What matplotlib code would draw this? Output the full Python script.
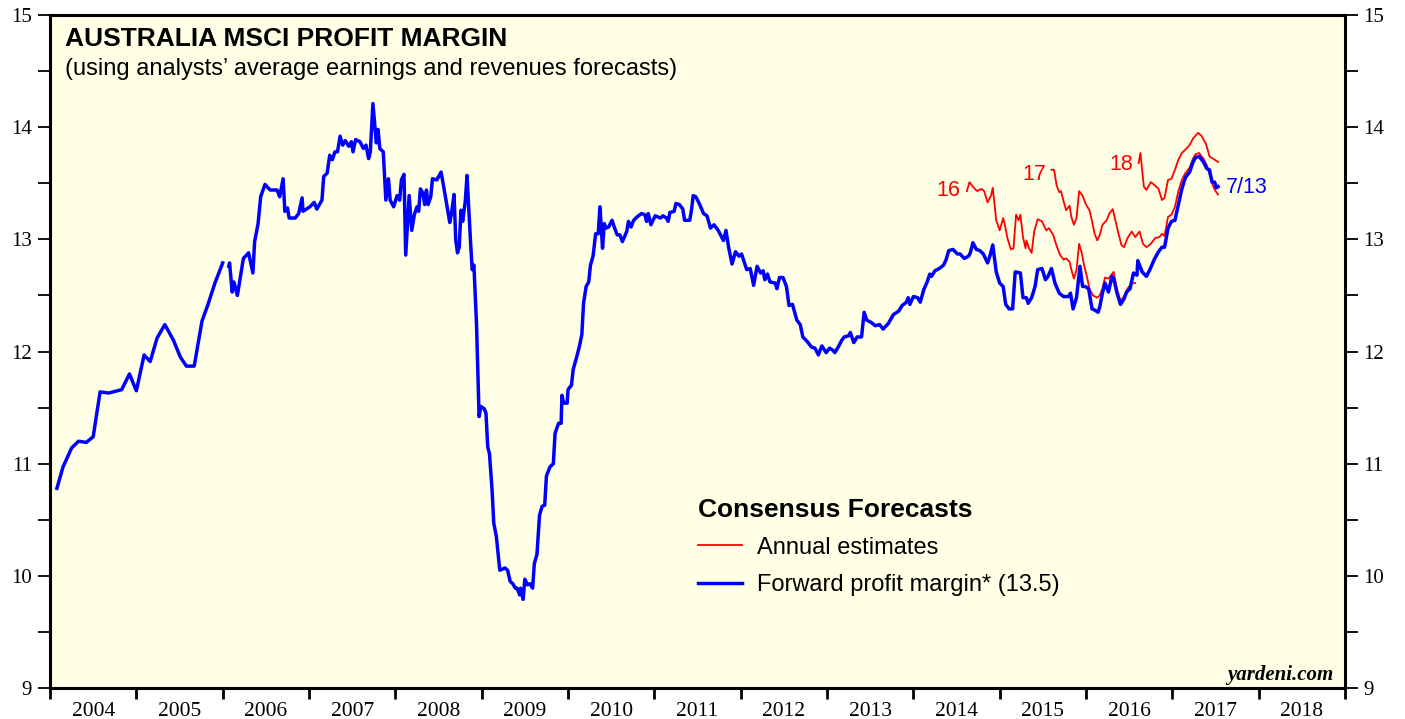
import numpy as np
import matplotlib
matplotlib.use("Agg")
import matplotlib.pyplot as plt

# Forward profit margin (weekly-ish), decimal years
fwd_dates = [
    2004.08, 2004.15, 2004.25, 2004.33, 2004.42, 2004.50, 2004.58, 2004.68, 2004.83, 2004.92,
    2005.00, 2005.09, 2005.16, 2005.24, 2005.33, 2005.43, 2005.51, 2005.58, 2005.67, 2005.76,
    2005.83, 2005.91, 2006.00, 2006.03, 2006.07, 2006.08, 2006.11, 2006.13, 2006.17, 2006.24,
    2006.30, 2006.35, 2006.37, 2006.41, 2006.44, 2006.49, 2006.55, 2006.63, 2006.66, 2006.70,
    2006.72, 2006.75, 2006.77, 2006.84, 2006.88, 2006.92, 2006.93, 2007.01, 2007.06, 2007.09,
    2007.15, 2007.17, 2007.21, 2007.24, 2007.27, 2007.30, 2007.33, 2007.36, 2007.39, 2007.42,
    2007.46, 2007.49, 2007.51, 2007.54, 2007.59, 2007.63, 2007.66, 2007.69, 2007.71, 2007.74,
    2007.78, 2007.80, 2007.82, 2007.86, 2007.89, 2007.92, 2007.94, 2007.98, 2008.02, 2008.05,
    2008.07, 2008.10, 2008.12, 2008.16, 2008.19, 2008.22, 2008.25, 2008.27, 2008.29, 2008.32,
    2008.34, 2008.36, 2008.38, 2008.41, 2008.43, 2008.48, 2008.53, 2008.58, 2008.63, 2008.65,
    2008.68, 2008.70, 2008.72, 2008.74, 2008.76, 2008.78, 2008.81, 2008.83, 2008.87, 2008.89,
    2008.91, 2008.94, 2008.97, 2008.99, 2009.03, 2009.05, 2009.07, 2009.09, 2009.12, 2009.14,
    2009.17, 2009.21, 2009.27, 2009.30, 2009.33, 2009.36, 2009.39, 2009.41, 2009.44, 2009.45,
    2009.48, 2009.50, 2009.53, 2009.56, 2009.59, 2009.61, 2009.64, 2009.67, 2009.70, 2009.73,
    2009.75, 2009.79, 2009.83, 2009.85, 2009.89, 2009.92, 2009.93, 2009.95, 2009.99, 2010.00,
    2010.04, 2010.06, 2010.10, 2010.13, 2010.16, 2010.18, 2010.21, 2010.24, 2010.26, 2010.29,
    2010.32, 2010.35, 2010.37, 2010.40, 2010.42, 2010.44, 2010.47, 2010.51, 2010.54, 2010.57,
    2010.60, 2010.63, 2010.68, 2010.70, 2010.73, 2010.76, 2010.80, 2010.85, 2010.89, 2010.91,
    2010.93, 2010.96, 2011.01, 2011.07, 2011.10, 2011.14, 2011.16, 2011.18, 2011.23, 2011.25,
    2011.29, 2011.33, 2011.35, 2011.41, 2011.43, 2011.45, 2011.48, 2011.52, 2011.57, 2011.61,
    2011.65, 2011.69, 2011.74, 2011.80, 2011.83, 2011.86, 2011.90, 2011.94, 2011.98, 2012.01,
    2012.07, 2012.11, 2012.15, 2012.19, 2012.23, 2012.26, 2012.28, 2012.31, 2012.34, 2012.40,
    2012.42, 2012.45, 2012.49, 2012.53, 2012.56, 2012.60, 2012.65, 2012.69, 2012.72, 2012.77,
    2012.82, 2012.86, 2012.90, 2012.94, 2012.99, 2013.03, 2013.07, 2013.09, 2013.13, 2013.17,
    2013.20, 2013.25, 2013.27, 2013.31, 2013.35, 2013.40, 2013.43, 2013.46, 2013.51, 2013.56,
    2013.61, 2013.65, 2013.71, 2013.77, 2013.83, 2013.87, 2013.92, 2013.94, 2013.96, 2014.00,
    2014.05, 2014.08, 2014.12, 2014.16, 2014.19, 2014.21, 2014.25, 2014.30, 2014.35, 2014.38,
    2014.41, 2014.46, 2014.51, 2014.54, 2014.59, 2014.64, 2014.66, 2014.69, 2014.73, 2014.77,
    2014.81, 2014.86, 2014.89, 2014.92, 2014.96, 2015.00, 2015.04, 2015.07, 2015.11, 2015.15,
    2015.18, 2015.24, 2015.27, 2015.31, 2015.33, 2015.37, 2015.41, 2015.44, 2015.49, 2015.53,
    2015.56, 2015.60, 2015.64, 2015.69, 2015.74, 2015.80, 2015.82, 2015.85, 2015.89, 2015.93,
    2015.96, 2015.99, 2016.03, 2016.07, 2016.10, 2016.14, 2016.16, 2016.19, 2016.22, 2016.26,
    2016.30, 2016.32, 2016.36, 2016.40, 2016.44, 2016.47, 2016.51, 2016.55, 2016.59, 2016.60,
    2016.65, 2016.70, 2016.74, 2016.79, 2016.84, 2016.88, 2016.91, 2016.95, 2016.99, 2017.03,
    2017.07, 2017.11, 2017.15, 2017.20, 2017.24, 2017.27, 2017.31, 2017.36, 2017.40, 2017.43,
    2017.46, 2017.49, 2017.51, 2017.53,
]
fwd_margin = [
    10.78, 10.97, 11.14, 11.20, 11.19, 11.24, 11.64, 11.63, 11.66, 11.80,
    11.65, 11.97, 11.91, 12.12, 12.24, 12.10, 11.95, 11.87, 11.87, 12.27,
    12.42, 12.61, 12.79, np.nan, 12.76, 12.79, 12.53, 12.62, 12.50, 12.83,
    12.88, 12.70, 12.98, 13.14, 13.38, 13.49, 13.44, 13.44, 13.38, 13.54,
    13.25, 13.28, 13.19, 13.19, 13.23, 13.37, 13.25, 13.29, 13.33, 13.27,
    13.35, 13.56, 13.59, 13.75, 13.71, 13.78, 13.78, 13.92, 13.84, 13.88,
    13.83, 13.87, 13.78, 13.89, 13.87, 13.81, 13.84, 13.72, 13.78, 14.21,
    13.86, 13.98, 13.81, 13.78, 13.35, 13.54, 13.35, 13.29, 13.39, 13.35,
    13.53, 13.58, 12.86, 13.39, 13.08, 13.22, 13.29, 13.25, 13.45, 13.41,
    13.31, 13.44, 13.31, 13.38, 13.54, 13.53, 13.60, 13.38, 13.15, 13.23,
    13.40, 12.99, 12.88, 12.93, 13.26, 13.16, 13.34, 13.57, 12.99, 12.73,
    12.77, 12.25, 11.42, 11.51, 11.49, 11.45, 11.15, 11.09, 10.77, 10.47,
    10.35, 10.05, 10.07, 10.05, 9.95, 9.93, 9.89, 9.89, 9.83, 9.89,
    9.79, 9.97, 9.92, 9.93, 9.89, 10.11, 10.19, 10.54, 10.62, 10.63,
    10.89, 10.97, 11.00, 11.27, 11.36, 11.36, 11.61, 11.54, 11.54, 11.66,
    11.70, 11.84, 11.95, 12.04, 12.15, 12.43, 12.58, 12.62, 12.77, 12.85,
    13.05, 13.05, 13.29, 12.92, 13.14, 13.10, 13.11, 13.17, 13.10, 13.04,
    13.04, 12.98, 13.07, 13.16, 13.11, 13.17, 13.20, 13.23, 13.22, 13.16,
    13.23, 13.13, 13.21, 13.19, 13.21, 13.19, 13.16, 13.24, 13.25, 13.32,
    13.31, 13.27, 13.17, 13.17, 13.26, 13.39, 13.38, 13.32, 13.23, 13.21,
    13.10, 13.13, 13.08, 12.99, 13.08, 12.93, 12.78, 12.89, 12.85, 12.87,
    12.73, 12.74, 12.59, 12.76, 12.70, 12.72, 12.64, 12.69, 12.62, 12.61,
    12.56, 12.66, 12.66, 12.58, 12.41, 12.42, 12.28, 12.24, 12.13, 12.09,
    12.04, 12.03, 11.97, 12.05, 11.99, 12.03, 12.01, 11.99, 12.04, 12.10,
    12.13, 12.14, 12.17, 12.08, 12.13, 12.13, 12.35, 12.28, 12.26, 12.23,
    12.24, 12.20, 12.25, 12.33, 12.36, 12.41, 12.44, 12.48, 12.42, 12.49,
    12.48, 12.44, 12.55, 12.62, 12.69, 12.67, 12.72, 12.74, 12.77, 12.82,
    12.90, 12.91, 12.87, 12.87, 12.83, 12.85, 12.88, 12.97, 12.91, 12.90,
    12.87, 12.79, 12.86, 12.95, 12.71, 12.61, 12.58, 12.42, 12.38, 12.38,
    12.71, 12.70, 12.48, 12.48, 12.43, 12.48, 12.58, 12.73, 12.74, 12.64,
    12.67, 12.74, 12.61, 12.52, 12.49, 12.49, 12.52, 12.38, 12.48, 12.76,
    12.58, 12.58, 12.56, 12.38, 12.37, 12.35, 12.40, 12.52, 12.61, 12.53,
    12.67, 12.65, 12.52, 12.42, 12.47, 12.53, 12.56, 12.70, 12.68, 12.81,
    12.71, 12.67, 12.73, 12.82, 12.89, 12.93, 12.93, 13.10, 13.16, 13.17,
    13.31, 13.45, 13.55, 13.60, 13.69, 13.73, 13.74, 13.69, 13.63, 13.62,
    13.51, 13.51, 13.46, 13.47,
]

# Annual estimates for 2016, 2017, 2018
est16_dates = [
    2014.62, 2014.65, 2014.70, 2014.74, 2014.79, 2014.82, 2014.86, 2014.90, 2014.92, 2014.96,
    2015.00, 2015.04, 2015.06, 2015.09, 2015.13, 2015.16, 2015.19, 2015.22, 2015.24, 2015.27,
    2015.30, 2015.31, 2015.34, 2015.37, 2015.40, 2015.44, 2015.49, 2015.54, 2015.57, 2015.62,
    2015.66, 2015.70, 2015.74, 2015.77, 2015.81, 2015.83, 2015.86, 2015.89, 2015.92, 2015.95,
    2015.98, 2016.01, 2016.04, 2016.08, 2016.13, 2016.16, 2016.19, 2016.22, 2016.26, 2016.32,
    2016.36, 2016.40, 2016.44, 2016.48, 2016.53, 2016.57,
]
est16 = [
    13.43, 13.51, 13.46, 13.43, 13.45, 13.43, 13.33, 13.39, 13.46, 13.17,
    13.08, 13.19, 13.13, 13.01, 12.91, 12.92, 13.22, 13.17, 13.22, 13.02,
    12.92, 12.99, 12.92, 12.88, 13.07, 13.18, 13.16, 13.08, 13.10, 13.04,
    12.94, 12.86, 12.82, 12.83, 12.80, 12.73, 12.65, 12.73, 12.96, 12.88,
    12.76, 12.67, 12.56, 12.50, 12.48, 12.50, 12.56, 12.66, 12.65, 12.71,
    12.55, 12.45, 12.49, 12.56, 12.61, 12.61,
]
est17_dates = [
    2015.60, 2015.63, 2015.66, 2015.69, 2015.71, 2015.74, 2015.77, 2015.81, 2015.83, 2015.86,
    2015.89, 2015.92, 2015.96, 2016.00, 2016.04, 2016.07, 2016.10, 2016.13, 2016.16, 2016.19,
    2016.24, 2016.27, 2016.31, 2016.37, 2016.41, 2016.44, 2016.48, 2016.53, 2016.57, 2016.62,
    2016.66, 2016.70, 2016.75, 2016.80, 2016.85, 2016.88, 2016.91, 2016.95, 2016.99, 2017.03,
    2017.07, 2017.11, 2017.15, 2017.20, 2017.24, 2017.27, 2017.31, 2017.36, 2017.40, 2017.43,
    2017.47, 2017.50, 2017.53,
]
est17 = [
    13.62, 13.62, 13.48, 13.42, 13.43, 13.34, 13.26, 13.30, 13.20, 13.13,
    13.19, 13.43, 13.39, 13.31, 13.26, 13.16, 13.05, 12.99, 13.04, 13.13,
    13.17, 13.23, 13.27, 13.07, 12.95, 12.93, 13.01, 13.07, 13.02, 13.07,
    12.96, 12.93, 12.96, 13.01, 13.02, 13.05, 13.03, 13.20, 13.22, 13.29,
    13.43, 13.53, 13.59, 13.64, 13.72, 13.76, 13.77, 13.72, 13.66, 13.58,
    13.48, 13.43, 13.40,
]
est18_dates = [
    2016.61, 2016.63, 2016.67, 2016.70, 2016.75, 2016.80, 2016.84, 2016.88, 2016.91, 2016.95,
    2016.99, 2017.03, 2017.07, 2017.11, 2017.15, 2017.20, 2017.24, 2017.30, 2017.34, 2017.39,
    2017.43, 2017.47, 2017.53,
]
est18 = [
    13.68, 13.77, 13.47, 13.44, 13.51, 13.48, 13.45, 13.35, 13.37, 13.53,
    13.54, 13.62, 13.71, 13.77, 13.80, 13.84, 13.90, 13.95, 13.92, 13.85,
    13.74, 13.72, 13.69,
]

years = list(range(2004, 2019))
sans = ["Liberation Sans", "DejaVu Sans"]
serif = ["Liberation Serif", "DejaVu Serif"]

fig = plt.figure(figsize=(14.05, 7.19), dpi=100)
ax = fig.add_axes([0.0356, 0.0431, 0.9217, 0.936])
ax.set_facecolor("#FFFFE5")

ax.plot(est16_dates, est16, color="#FF0000", lw=1.3, label="Annual estimates")
ax.plot(est17_dates, est17, color="#FF0000", lw=1.3)
ax.plot(est18_dates, est18, color="#FF0000", lw=1.3)
ax.plot(fwd_dates, fwd_margin, color="#0000FF", lw=2.5,
        label="Forward profit margin* (13.5)")

ax.set_xlim(2004, 2019)
ax.set_ylim(9, 15)

# x axis: ticks on year boundaries, labels centred in each year
ax.set_xticks(range(2004, 2020))
ax.set_xticklabels([])
ax.set_xticks([y + 0.5 for y in years], minor=True)
ax.set_xticklabels([str(y) for y in years], minor=True, family=serif, fontsize=15.5)
ax.tick_params(axis="x", which="major", direction="out", length=8, width=2)
ax.tick_params(axis="x", which="minor", length=0, pad=10)

# y axis both sides
ax.set_yticks(range(9, 16))
ax.set_yticks(np.arange(9.5, 15, 1.0), minor=True)
ax.tick_params(axis="y", which="both", direction="out", left=True, right=True,
               labelleft=True, labelright=True)
ax.tick_params(axis="y", which="major", length=9, width=1.3, pad=4)
ax.tick_params(axis="y", which="minor", length=9, width=1.3)
for lab in ax.get_yticklabels():
    lab.set_family(serif)
    lab.set_fontsize(15)

for sp in ax.spines.values():
    sp.set_linewidth(2.2)

ax.text(0.0116, 0.964, "AUSTRALIA MSCI PROFIT MARGIN", transform=ax.transAxes,
        family=sans, fontsize=19, fontweight="bold", va="center", ha="left")
ax.text(0.0116, 0.920, "(using analysts\u2019 average earnings and revenues forecasts)",
        transform=ax.transAxes, family=sans, fontsize=17, va="center", ha="left")

# series labels
ax.text(2014.40, 13.44, "16", color="#FF0000", family=sans, fontsize=15.5, ha="center", va="center")
ax.text(2015.40, 13.58, "17", color="#FF0000", family=sans, fontsize=15.5, ha="center", va="center")
ax.text(2016.41, 13.67, "18", color="#FF0000", family=sans, fontsize=15.5, ha="center", va="center")
ax.text(2017.62, 13.46, "7/13", color="#0000FF", family=sans, fontsize=15.5, ha="left", va="center")

leg = ax.legend(loc="upper left", bbox_to_anchor=(0.5, 0.283), frameon=False,
                title="Consensus Forecasts", alignment="left",
                prop={"family": sans, "size": 17}, handlelength=1.9,
                handletextpad=0.6, labelspacing=0.64, borderpad=0, borderaxespad=0)
leg.get_title().set_fontfamily(sans)
leg.get_title().set_fontsize(19)
leg.get_title().set_fontweight("bold")

ax.text(0.9907, 0.019, "yardeni.com", transform=ax.transAxes, family=serif,
        fontsize=15, style="italic", fontweight="bold", ha="right", va="center")

fig.savefig("out.png", dpi=100)
